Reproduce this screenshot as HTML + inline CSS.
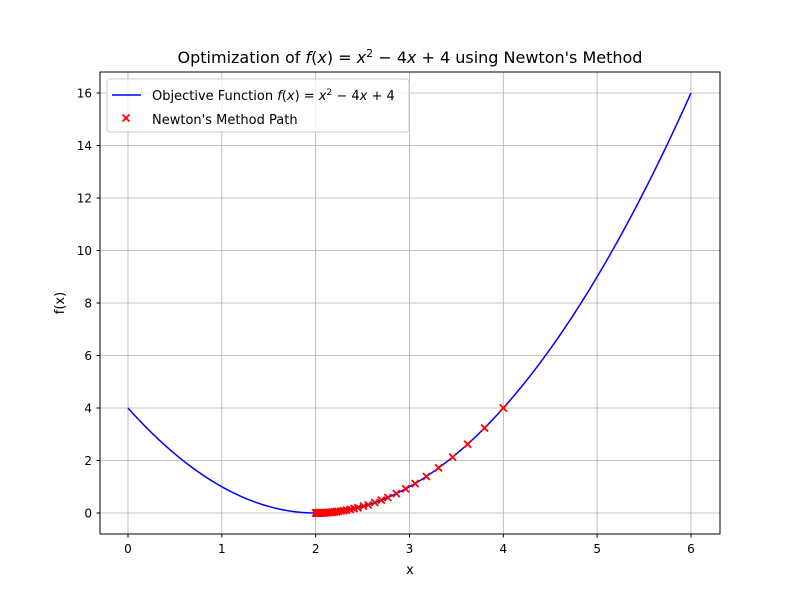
<!DOCTYPE html>
<html><head><meta charset="utf-8">
<style>
body{margin:0;background:#fff;}
svg{display:block;font-family:"DejaVu Sans","Liberation Sans",sans-serif;}
</style></head>
<body>
<svg id="chart" width="800" height="600" viewBox="0 0 800 600">
<rect width="800" height="600" fill="#fff"/>
<g id="grid"></g>
<g id="series"></g>
<rect x="100" y="72" width="620" height="462" fill="none" stroke="#000" stroke-width="1"/>
<g id="ticks"></g>
<text x="410" y="63" font-size="16" text-anchor="middle">Optimization of <tspan font-style="italic">f</tspan>(<tspan font-style="italic">x</tspan>) = <tspan font-style="italic">x</tspan><tspan font-size="11" dy="-6">2</tspan><tspan dy="6"> − 4</tspan><tspan font-style="italic">x</tspan> + 4 using Newton's Method</text>
<text x="410" y="574" font-size="13" text-anchor="middle">x</text>
<text x="64" y="303" font-size="13" text-anchor="middle" transform="rotate(-90 64 303)">f(x)</text>
<g>
<rect x="107" y="79" width="302" height="53" rx="3" fill="#fff" fill-opacity="0.8" stroke="#ccc"/>
<line x1="112" y1="95" x2="141" y2="95" stroke="#00f" stroke-width="1.5"/>
<text x="152" y="100" font-size="13">Objective Function <tspan font-style="italic">f</tspan>(<tspan font-style="italic">x</tspan>) = <tspan font-style="italic">x</tspan><tspan font-size="9" dy="-5">2</tspan><tspan dy="5"> − 4</tspan><tspan font-style="italic">x</tspan> + 4</text>
<path d="M122.5,114.5 l7,7 M129.5,114.5 l-7,7" stroke="#f00" stroke-width="1.8"/>
<text x="152" y="124" font-size="13">Newton's Method Path</text>
</g>
</svg>
<script>
const xTicks=[0,1,2,3,4,5,6];
const yTicks=[0,2,4,6,8,10,12,14,16];
const pathX=[4,3.8,3.62,3.46,3.31,3.18,3.06,2.96,2.86,2.77,2.70,2.63,2.56,2.51,2.45,2.41,2.37,2.33,2.30,2.27,2.24,2.22,2.20,2.18,2.16,2.14,2.13,2.11,2.10,2.09,2.08,2.07,2.06,2.055,2.05,2.045,2.04,2.035,2.03,2.027,2.024,2.02,2.018,2.016,2.014,2.012,2.01,2.008,2.006,2.004,2.002,2.0];
const pathY=[4,3.24,2.62,2.13,1.72,1.39,1.12,0.92,0.74,0.59,0.49,0.40,0.31,0.26,0.20,0.17,0.14,0.11,0.09,0.07,0.06,0.05,0.04,0.03,0.026,0.02,0.017,0.012,0.01,0.008,0.006,0.005,0.004,0.003,0.0025,0.002,0.0016,0.0012,0.0009,0.0007,0.0006,0.0004,0.0003,0.0003,0.0002,0.0001,0.0001,0.0001,0,0,0,0];
const NS="http://www.w3.org/2000/svg";
const xs=v=>128+v*93.83;
const ys=v=>513-v*26.25;
const grid=document.getElementById('grid'),ticks=document.getElementById('ticks'),series=document.getElementById('series');
function mk(tag,attrs,parent){const e=document.createElementNS(NS,tag);for(const k in attrs)e.setAttribute(k,attrs[k]);parent.appendChild(e);return e;}
xTicks.forEach(t=>{
 const x=xs(t);
 const g=mk('line',{x1:x,y1:72,x2:x,y2:534,stroke:'#b0b0b0','stroke-width':0.8},grid);
 
 
 const tk=mk('line',{x1:x,y1:534,x2:x,y2:537.5,stroke:'#000'},ticks);
 
 
 const tx=mk('text',{x:x,y:553,'font-size':12,'text-anchor':'middle'},ticks);
 tx.textContent=t;
 
 
});
yTicks.forEach(t=>{
 const y=ys(t);
 const g=mk('line',{x1:100,y1:y,x2:720,y2:y,stroke:'#b0b0b0','stroke-width':0.8},grid);
 
 
 const tk=mk('line',{x1:96.5,y1:y,x2:100,y2:y,stroke:'#000'},ticks);
 
 
 const tx=mk('text',{x:92,y:y+4.5,'font-size':12,'text-anchor':'end'},ticks);
 tx.textContent=t;
 
 
});
let d='';
for(let i=0;i<=300;i++){const x=6*i/300;const y=x*x-4*x+4;d+=(i?'L':'M')+xs(x).toFixed(2)+','+ys(y).toFixed(2);}
const curve=mk('path',{d:d,fill:'none',stroke:'#00f','stroke-width':1.5},series);


pathX.forEach((x,i)=>{
 const cx=xs(x),cy=ys(pathY[i]);
 const m=mk('path',{d:`M${cx-3.5},${cy-3.5}l7,7M${cx+3.5},${cy-3.5}l-7,7`,stroke:'#f00','stroke-width':1.8},series);
 
 
});
</script>
</body></html>
